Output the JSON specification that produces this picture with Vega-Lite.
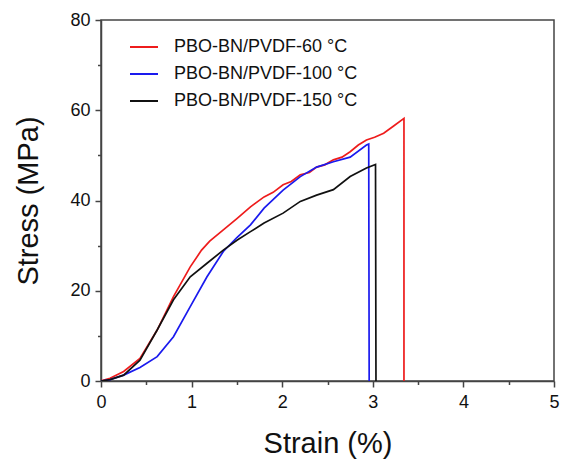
{
  "$schema": "https://vega.github.io/schema/vega-lite/v6.json",
  "width": 453,
  "height": 361,
  "autosize": "none",
  "padding": {"left": 101, "top": 20, "right": 8, "bottom": 82},
  "background": "white",
  "config": {
    "font": "Liberation Sans",
    "view": {"stroke": "#444", "strokeWidth": 1.5},
    "axis": {"grid": false, "labelFlush": false, "labelOverlap": false, "domainColor": "#444", "tickColor": "#444", "domainWidth": 1.5, "tickWidth": 1.5, "labelColor": "#111", "titleColor": "#111", "labelFont": "Liberation Sans", "titleFont": "Liberation Sans", "titleFontWeight": "normal"}
  },
  "data": {
    "values": [
      {"s": "PBO-BN/PVDF-60 °C", "i": 0, "x": 0, "y": 0},
      {"s": "PBO-BN/PVDF-60 °C", "i": 1, "x": 0.1, "y": 0.6},
      {"s": "PBO-BN/PVDF-60 °C", "i": 2, "x": 0.25, "y": 2.1},
      {"s": "PBO-BN/PVDF-60 °C", "i": 3, "x": 0.43, "y": 5.0},
      {"s": "PBO-BN/PVDF-60 °C", "i": 4, "x": 0.62, "y": 11.3},
      {"s": "PBO-BN/PVDF-60 °C", "i": 5, "x": 0.8, "y": 18.7},
      {"s": "PBO-BN/PVDF-60 °C", "i": 6, "x": 0.985, "y": 25.3},
      {"s": "PBO-BN/PVDF-60 °C", "i": 7, "x": 1.11, "y": 29.0},
      {"s": "PBO-BN/PVDF-60 °C", "i": 8, "x": 1.2, "y": 31.0},
      {"s": "PBO-BN/PVDF-60 °C", "i": 9, "x": 1.35, "y": 33.5},
      {"s": "PBO-BN/PVDF-60 °C", "i": 10, "x": 1.5, "y": 36.0},
      {"s": "PBO-BN/PVDF-60 °C", "i": 11, "x": 1.65, "y": 38.6},
      {"s": "PBO-BN/PVDF-60 °C", "i": 12, "x": 1.8, "y": 40.8},
      {"s": "PBO-BN/PVDF-60 °C", "i": 13, "x": 1.9, "y": 41.8},
      {"s": "PBO-BN/PVDF-60 °C", "i": 14, "x": 2.01, "y": 43.5},
      {"s": "PBO-BN/PVDF-60 °C", "i": 15, "x": 2.1, "y": 44.2},
      {"s": "PBO-BN/PVDF-60 °C", "i": 16, "x": 2.2, "y": 45.7},
      {"s": "PBO-BN/PVDF-60 °C", "i": 17, "x": 2.3, "y": 46.2},
      {"s": "PBO-BN/PVDF-60 °C", "i": 18, "x": 2.38, "y": 47.4},
      {"s": "PBO-BN/PVDF-60 °C", "i": 19, "x": 2.47, "y": 47.9},
      {"s": "PBO-BN/PVDF-60 °C", "i": 20, "x": 2.565, "y": 49.0},
      {"s": "PBO-BN/PVDF-60 °C", "i": 21, "x": 2.66, "y": 49.6},
      {"s": "PBO-BN/PVDF-60 °C", "i": 22, "x": 2.75, "y": 50.8},
      {"s": "PBO-BN/PVDF-60 °C", "i": 23, "x": 2.84, "y": 52.3},
      {"s": "PBO-BN/PVDF-60 °C", "i": 24, "x": 2.93, "y": 53.4},
      {"s": "PBO-BN/PVDF-60 °C", "i": 25, "x": 3.02, "y": 54.0},
      {"s": "PBO-BN/PVDF-60 °C", "i": 26, "x": 3.12, "y": 54.9},
      {"s": "PBO-BN/PVDF-60 °C", "i": 27, "x": 3.23, "y": 56.5},
      {"s": "PBO-BN/PVDF-60 °C", "i": 28, "x": 3.344, "y": 58.2},
      {"s": "PBO-BN/PVDF-60 °C", "i": 29, "x": 3.344, "y": 0},
      {"s": "PBO-BN/PVDF-100 °C", "i": 0, "x": 0, "y": 0},
      {"s": "PBO-BN/PVDF-100 °C", "i": 1, "x": 0.1, "y": 0.3},
      {"s": "PBO-BN/PVDF-100 °C", "i": 2, "x": 0.25, "y": 1.3},
      {"s": "PBO-BN/PVDF-100 °C", "i": 3, "x": 0.43, "y": 3.0},
      {"s": "PBO-BN/PVDF-100 °C", "i": 4, "x": 0.62, "y": 5.4},
      {"s": "PBO-BN/PVDF-100 °C", "i": 5, "x": 0.8, "y": 9.8},
      {"s": "PBO-BN/PVDF-100 °C", "i": 6, "x": 0.985, "y": 16.5},
      {"s": "PBO-BN/PVDF-100 °C", "i": 7, "x": 1.17, "y": 23.1},
      {"s": "PBO-BN/PVDF-100 °C", "i": 8, "x": 1.35, "y": 28.7},
      {"s": "PBO-BN/PVDF-100 °C", "i": 9, "x": 1.5, "y": 31.8},
      {"s": "PBO-BN/PVDF-100 °C", "i": 10, "x": 1.65, "y": 34.6},
      {"s": "PBO-BN/PVDF-100 °C", "i": 11, "x": 1.8, "y": 38.3},
      {"s": "PBO-BN/PVDF-100 °C", "i": 12, "x": 2.01, "y": 42.3},
      {"s": "PBO-BN/PVDF-100 °C", "i": 13, "x": 2.2, "y": 45.3},
      {"s": "PBO-BN/PVDF-100 °C", "i": 14, "x": 2.38, "y": 47.4},
      {"s": "PBO-BN/PVDF-100 °C", "i": 15, "x": 2.565, "y": 48.6},
      {"s": "PBO-BN/PVDF-100 °C", "i": 16, "x": 2.75, "y": 49.6},
      {"s": "PBO-BN/PVDF-100 °C", "i": 17, "x": 2.93, "y": 52.3},
      {"s": "PBO-BN/PVDF-100 °C", "i": 18, "x": 2.955, "y": 52.5},
      {"s": "PBO-BN/PVDF-100 °C", "i": 19, "x": 2.96, "y": 0},
      {"s": "PBO-BN/PVDF-150 °C", "i": 0, "x": 0, "y": 0},
      {"s": "PBO-BN/PVDF-150 °C", "i": 1, "x": 0.1, "y": 0.3},
      {"s": "PBO-BN/PVDF-150 °C", "i": 2, "x": 0.25, "y": 1.3},
      {"s": "PBO-BN/PVDF-150 °C", "i": 3, "x": 0.43, "y": 4.6},
      {"s": "PBO-BN/PVDF-150 °C", "i": 4, "x": 0.62, "y": 11.3},
      {"s": "PBO-BN/PVDF-150 °C", "i": 5, "x": 0.8, "y": 18.0},
      {"s": "PBO-BN/PVDF-150 °C", "i": 6, "x": 0.985, "y": 23.1},
      {"s": "PBO-BN/PVDF-150 °C", "i": 7, "x": 1.17, "y": 26.1},
      {"s": "PBO-BN/PVDF-150 °C", "i": 8, "x": 1.35, "y": 29.0},
      {"s": "PBO-BN/PVDF-150 °C", "i": 9, "x": 1.5, "y": 31.2},
      {"s": "PBO-BN/PVDF-150 °C", "i": 10, "x": 1.65, "y": 33.1},
      {"s": "PBO-BN/PVDF-150 °C", "i": 11, "x": 1.8, "y": 35.0},
      {"s": "PBO-BN/PVDF-150 °C", "i": 12, "x": 2.01, "y": 37.2},
      {"s": "PBO-BN/PVDF-150 °C", "i": 13, "x": 2.2, "y": 39.8},
      {"s": "PBO-BN/PVDF-150 °C", "i": 14, "x": 2.38, "y": 41.2},
      {"s": "PBO-BN/PVDF-150 °C", "i": 15, "x": 2.565, "y": 42.4},
      {"s": "PBO-BN/PVDF-150 °C", "i": 16, "x": 2.75, "y": 45.3},
      {"s": "PBO-BN/PVDF-150 °C", "i": 17, "x": 2.93, "y": 47.2},
      {"s": "PBO-BN/PVDF-150 °C", "i": 18, "x": 3.03, "y": 48.0},
      {"s": "PBO-BN/PVDF-150 °C", "i": 19, "x": 3.035, "y": 0}
    ]
  },
  "layer": [
    {
      "mark": {"type": "line", "strokeWidth": 1.7, "clip": true},
      "encoding": {
        "x": {
          "field": "x", "type": "quantitative",
          "scale": {"domain": [0, 5], "nice": false, "zero": false},
          "axis": {"title": "Strain (%)", "values": [0, 1, 2, 3, 4, 5], "tickSize": 6, "labelFontSize": 18, "labelPadding": 6, "titleFontSize": 29, "titlePadding": 18, "format": "d"}
        },
        "y": {
          "field": "y", "type": "quantitative",
          "scale": {"domain": [0, 80], "nice": false, "zero": false},
          "axis": {"title": "Stress (MPa)", "values": [0, 20, 40, 60, 80], "tickSize": 6, "labelFontSize": 18, "labelPadding": 5, "titleFontSize": 29, "titlePadding": 26, "format": "d"}
        },
        "color": {
          "field": "s", "type": "nominal",
          "scale": {"domain": ["PBO-BN/PVDF-60 °C", "PBO-BN/PVDF-100 °C", "PBO-BN/PVDF-150 °C"], "range": ["#ee1c1c", "#1a1aee", "#111111"]},
          "legend": {"title": null, "orient": "none", "legendX": 28, "legendY": 12, "symbolType": "stroke", "symbolSize": 784, "symbolStrokeWidth": 2, "labelFontSize": 18, "labelOffset": 15, "labelLimit": 400, "rowPadding": 3, "labelColor": "#111", "labelFont": "Liberation Sans", "padding": 0}
        },
        "order": {"field": "i", "type": "quantitative"}
      }
    },
    {
      "mark": {"type": "point", "opacity": 0},
      "encoding": {
        "x": {"field": "x", "type": "quantitative", "axis": {"orient": "bottom", "values": [0.5, 1.5, 2.5, 3.5, 4.5], "labels": false, "domain": false, "tickSize": 3.5, "title": null}},
        "y": {"field": "y", "type": "quantitative", "axis": {"orient": "left", "values": [10, 30, 50, 70], "labels": false, "domain": false, "tickSize": 3.5, "title": null}}
      }
    }
  ],
  "resolve": {"axis": {"x": "independent", "y": "independent"}}
}
